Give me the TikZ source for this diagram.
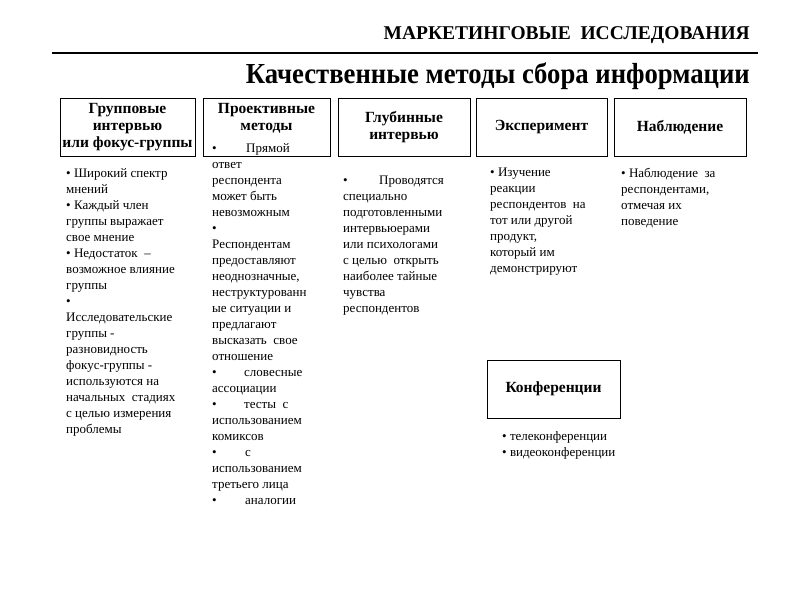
\documentclass[tikz,border=0pt]{standalone}
\usepackage{fontspec}
\setmainfont{Liberation Serif}
\newfontfamily\schmalfont[FakeStretch=0.92]{Liberation Serif}
\usetikzlibrary{positioning}
\tikzset{
    rubrik/.style  = {anchor=base east, inner sep=0pt, font=\bfseries\fontsize{19.5}{22}\selectfont},
    titel/.style   = {anchor=base east, inner sep=0pt, font=\schmalfont\bfseries\fontsize{29}{32}\selectfont},
    methode/.style = {draw, line width=0.8pt, minimum height=58pt, inner xsep=0pt,
                      align=center, font=\bfseries\fontsize{15.5}{17}\selectfont},
    liste/.style   = {anchor=north west, align=left, inner sep=0pt,
                      font=\fontsize{13}{16}\selectfont}
}
\newcommand{\tabpunkt}[1]{\makebox[#1][l]{•}}

\begin{document}
\begin{tikzpicture}[x=1pt, y=-1pt]
        \useasboundingbox (0,0) rectangle (800,600);

        \node[rubrik] (kopf) at (750,39) {МАРКЕТИНГОВЫЕ\ \ ИССЛЕДОВАНИЯ};
        \coordinate (linie-a) at (52,53);
        \coordinate (linie-b) at (758,53);
        \draw[line width=1.2pt] (linie-a) -- (linie-b);
        \node[titel] (titel) at (750,83) {Качественные методы сбора информации};

        % Kopfkaesten
        \node[methode, minimum width=135pt] (gruppe) at (127.5,127)
            {Групповые\\интервью\\или фокус-группы};
        \node[methode, minimum width=127pt] (projekt) at (266.5,127)
            {Проективные\\методы\\\phantom{Пр}};
        \node[methode, minimum width=132pt] (tiefe) at (404,127)
            {Глубинные\\интервью};
        \node[methode, minimum width=131pt] (experiment) at (541.5,127)
            {Эксперимент};
        \node[methode, minimum width=132pt] (beobacht) at (680,127)
            {Наблюдение};
        \node[methode, minimum width=133pt] (konferenz) at (553.5,389)
            {Конференции};

        % Spaltentexte
        \node[liste] (gruppe-text) at (66,168)
            {• Широкий спектр\\мнений\\• Каждый член\\группы выражает\\свое мнение\\
             • Недостаток \ –\\возможное влияние\\группы\\•\\Исследовательские\\группы -\\
             разновидность\\фокус-группы -\\используются на\\начальных \ стадиях\\
             с целью измерения\\проблемы};
        \node[liste] (projekt-text) at (212,143)
            {\tabpunkt{34pt}Прямой\\ответ\\респондента\\может быть\\невозможным\\•\\
             Респондентам\\предоставляют\\неоднозначные,\\неструктурованн\\ые ситуации и\\
             предлагают\\высказать \ свое\\отношение\\\tabpunkt{32pt}словесные\\ассоциации\\
             \tabpunkt{32pt}тесты \ с\\использованием\\комиксов\\\tabpunkt{33pt}с\\
             использованием\\третьего лица\\\tabpunkt{33pt}аналогии};
        \node[liste] (tiefe-text) at (343,176)
            {\tabpunkt{36pt}Проводятся\\специально\\подготовленными\\интервьюерами\\
             или психологами\\с целью \ открыть\\наиболее тайные\\чувства\\респондентов};
        \node[liste] (experiment-text) at (490,168)
            {• Изучение\\реакции\\респондентов \ на\\тот или другой\\продукт,\\который им\\
             демонстрируют};
        \node[liste] (beobacht-text) at (621,168)
            {• Наблюдение \ за\\респондентами,\\отмечая их\\поведение};
        \node[liste] (konferenz-text) at (502,431)
            {• телеконференции\\• видеоконференции};
    \end{tikzpicture}
\end{document}
